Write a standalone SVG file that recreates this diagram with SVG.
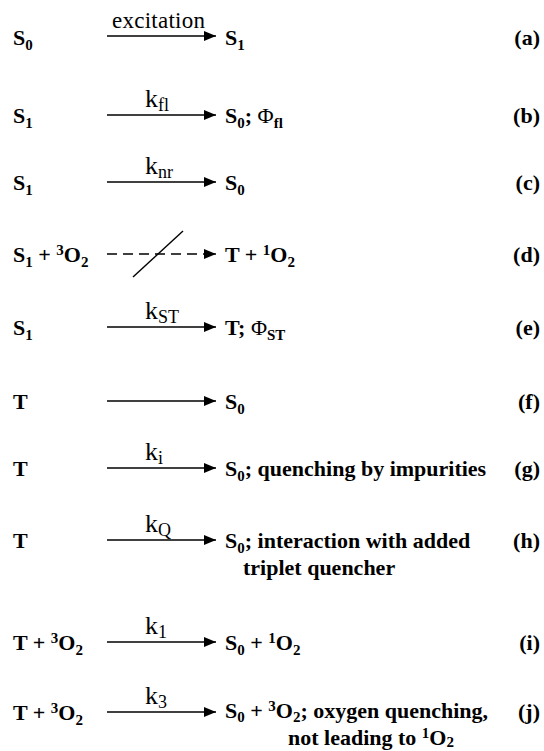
<svg xmlns="http://www.w3.org/2000/svg" width="544" height="751" viewBox="0 0 544 751">
<style>
text{font-family:"Liberation Serif","Times New Roman",serif;fill:#000}
.b{font-weight:bold;font-size:22px}
.s{font-size:15px}
.phi{font-weight:normal}
.k{font-weight:normal;font-size:26px}
.ks{font-size:18px}
.lab{font-weight:bold;font-size:22px;text-anchor:end}
.arr{stroke:#000;stroke-width:1.4;fill:none}
.dash{stroke:#000;stroke-width:1.4;fill:none;stroke-dasharray:10 6}
</style>
<defs>
<marker id="ah" viewBox="0 0 12 10" refX="12" refY="5" markerWidth="12" markerHeight="10" markerUnits="userSpaceOnUse" orient="auto">
<path d="M0,0 L12,5 L0,10 Z" fill="#000"/>
</marker>
</defs>
<rect width="544" height="751" fill="#fff"/>

<g id="connectors">
<line class="arr" x1="107" y1="36" x2="216" y2="36" marker-end="url(#ah)"/>
<line class="arr" x1="107" y1="115" x2="216" y2="115" marker-end="url(#ah)"/>
<line class="arr" x1="107" y1="182" x2="216" y2="182" marker-end="url(#ah)"/>
<line class="dash" x1="107" y1="254" x2="206" y2="254"/>
<line class="arr" x1="205" y1="254" x2="216" y2="254" marker-end="url(#ah)"/>
<line class="arr" x1="133" y1="277" x2="183" y2="231"/>
<line class="arr" x1="107" y1="327" x2="216" y2="327" marker-end="url(#ah)"/>
<line class="arr" x1="107" y1="401" x2="216" y2="401" marker-end="url(#ah)"/>
<line class="arr" x1="107" y1="468" x2="216" y2="468" marker-end="url(#ah)"/>
<line class="arr" x1="107" y1="540" x2="216" y2="540" marker-end="url(#ah)"/>
<line class="arr" x1="107" y1="642" x2="216" y2="642" marker-end="url(#ah)"/>
<line class="arr" x1="107" y1="712" x2="216" y2="712" marker-end="url(#ah)"/>
</g>

<g id="row-a">
<text class="b" x="13" y="45">S<tspan class="s" dy="5">0</tspan></text>
<text x="112" y="28" font-size="23" textLength="93" lengthAdjust="spacing">excitation</text>
<text class="b" x="225" y="45">S<tspan class="s" dy="5">1</tspan></text>
<text class="lab" x="540" y="45">(a)</text>
</g>

<g id="row-b">
<text class="b" x="13" y="123">S<tspan class="s" dy="5">1</tspan></text>
<text class="k" x="145" y="107">k<tspan class="ks" dy="4">fl</tspan></text>
<text class="b" x="225" y="123">S<tspan class="s" dy="5">0</tspan><tspan dy="-5">; </tspan><tspan class="phi">Φ</tspan><tspan class="s" dy="5">fl</tspan></text>
<text class="lab" x="540" y="123">(b)</text>
</g>

<g id="row-c">
<text class="b" x="13" y="190">S<tspan class="s" dy="5">1</tspan></text>
<text class="k" x="145" y="174">k<tspan class="ks" dy="4">nr</tspan></text>
<text class="b" x="225" y="190">S<tspan class="s" dy="5">0</tspan></text>
<text class="lab" x="540" y="190">(c)</text>
</g>

<g id="row-d">
<text class="b" x="13" y="262">S<tspan class="s" dy="5">1</tspan><tspan dy="-5"> + </tspan><tspan class="s" dy="-7">3</tspan><tspan dy="7">O</tspan><tspan class="s" dy="5">2</tspan></text>
<text class="b" x="225" y="262">T + <tspan class="s" dy="-7">1</tspan><tspan dy="7">O</tspan><tspan class="s" dy="5">2</tspan></text>
<text class="lab" x="540" y="262">(d)</text>
</g>

<g id="row-e">
<text class="b" x="13" y="335">S<tspan class="s" dy="5">1</tspan></text>
<text class="k" x="145" y="319">k<tspan class="ks" dy="4">ST</tspan></text>
<text class="b" x="225" y="335">T; <tspan class="phi">Φ</tspan><tspan class="s" dy="5">ST</tspan></text>
<text class="lab" x="540" y="335">(e)</text>
</g>

<g id="row-f">
<text class="b" x="13" y="409">T</text>
<text class="b" x="225" y="409">S<tspan class="s" dy="5">0</tspan></text>
<text class="lab" x="540" y="409">(f)</text>
</g>

<g id="row-g">
<text class="b" x="13" y="476">T</text>
<text class="k" x="145" y="460">k<tspan class="ks" dy="4">i</tspan></text>
<text class="b" x="225" y="476">S<tspan class="s" dy="5">0</tspan><tspan dy="-5">; quenching by impurities</tspan></text>
<text class="lab" x="540" y="476">(g)</text>
</g>

<g id="row-h">
<text class="b" x="13" y="548">T</text>
<text class="k" x="145" y="532">k<tspan class="ks" dy="4">Q</tspan></text>
<text class="b" x="225" y="548">S<tspan class="s" dy="5">0</tspan><tspan dy="-5">; interaction with added</tspan></text>
<text class="b" x="243" y="575">triplet quencher</text>
<text class="lab" x="540" y="548">(h)</text>
</g>

<g id="row-i">
<text class="b" x="13" y="650">T + <tspan class="s" dy="-7">3</tspan><tspan dy="7">O</tspan><tspan class="s" dy="5">2</tspan></text>
<text class="k" x="145" y="634">k<tspan class="ks" dy="4">1</tspan></text>
<text class="b" x="225" y="650">S<tspan class="s" dy="5">0</tspan><tspan dy="-5"> + </tspan><tspan class="s" dy="-7">1</tspan><tspan dy="7">O</tspan><tspan class="s" dy="5">2</tspan></text>
<text class="lab" x="540" y="650">(i)</text>
</g>

<g id="row-j">
<text class="b" x="13" y="720">T + <tspan class="s" dy="-7">3</tspan><tspan dy="7">O</tspan><tspan class="s" dy="5">2</tspan></text>
<text class="k" x="145" y="704">k<tspan class="ks" dy="4">3</tspan></text>
<text class="b" x="225" y="718">S<tspan class="s" dy="4">0</tspan><tspan dy="-4"> + </tspan><tspan class="s" dy="-7">3</tspan><tspan dy="7">O</tspan><tspan class="s" dy="4">2</tspan><tspan dy="-4">; oxygen quenching,</tspan></text>
<text class="b" x="288" y="745">not leading to <tspan class="s" dy="-7">1</tspan><tspan dy="7">O</tspan><tspan class="s" dy="2">2</tspan></text>
<text class="lab" x="540" y="719">(j)</text>
</g>
</svg>
